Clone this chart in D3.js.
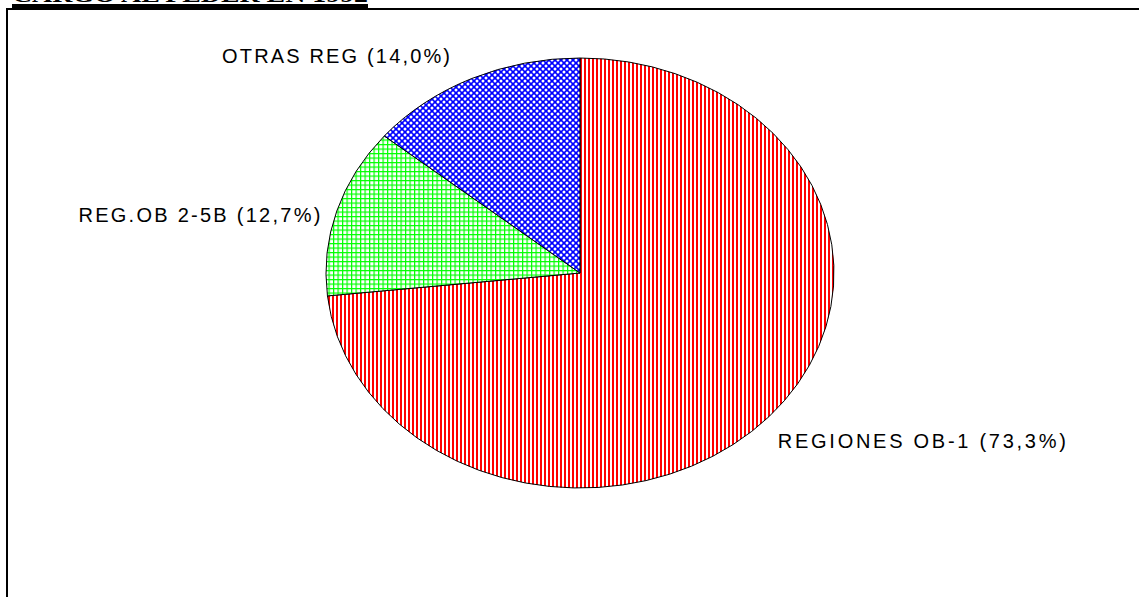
<!DOCTYPE html>
<html>
<head>
<meta charset="utf-8">
<script src="https://cdn.jsdelivr.net/npm/d3@7"></script>
<style>
  body { margin: 0; background: #fff; }
  svg { display: block; }
</style>
</head>
<body>
<div id="chart"></div>
<script>
// chart values
var title = "CARGO AL FEDER EN 1992";
var categories = ["REGIONES OB-1", "REG.OB 2-5B", "OTRAS REG"];
var shares = [73.3, 12.7, 14.0];
var patterns = ["pat-red", "pat-green", "pat-blue"];

var width = 1139, height = 597;

var svg = d3.select("#chart").append("svg")
    .attr("width", width)
    .attr("height", height);

var defs = svg.append("defs");

// red vertical stripes
var red = defs.append("pattern")
    .attr("id", "pat-red")
    .attr("patternUnits", "userSpaceOnUse")
    .attr("width", 4).attr("height", 4);
red.append("rect").attr("width", 4).attr("height", 4).attr("fill", "#fff");
red.append("rect").attr("x", 0).attr("width", 2).attr("height", 4).attr("fill", "#ff0000");

// green grid
var green = defs.append("pattern")
    .attr("id", "pat-green")
    .attr("patternUnits", "userSpaceOnUse")
    .attr("width", 4.5).attr("height", 4.5);
green.append("rect").attr("width", 4.5).attr("height", 4.5).attr("fill", "#fff");
green.append("rect").attr("x", 0).attr("width", 1.2).attr("height", 4.5).attr("fill", "#00ff00");
green.append("rect").attr("y", 0).attr("width", 4.5).attr("height", 1.2).attr("fill", "#00ff00");

// blue checker with white dots
var blue = defs.append("pattern")
    .attr("id", "pat-blue")
    .attr("patternUnits", "userSpaceOnUse")
    .attr("width", 6).attr("height", 6);
blue.append("rect").attr("width", 6).attr("height", 6).attr("fill", "#0000ff");
[[0, 0], [6, 0], [0, 6], [6, 6], [3, 3]].forEach(function(p) {
  blue.append("circle").attr("cx", p[0]).attr("cy", p[1]).attr("r", 1.5).attr("fill", "#fff");
});

// frame
svg.append("line")
    .attr("x1", 6).attr("x2", width)
    .attr("y1", 9).attr("y2", 9)
    .attr("stroke", "#000").attr("stroke-width", 2);
svg.append("line")
    .attr("x1", 7).attr("x2", 7)
    .attr("y1", 8).attr("y2", height)
    .attr("stroke", "#000").attr("stroke-width", 2);

// title, mostly cut off at the top
svg.append("text")
    .attr("x", 12).attr("y", 2)
    .attr("font-family", "'Liberation Serif', 'Times New Roman', serif")
    .attr("font-weight", "bold")
    .attr("font-size", 22)
    .attr("textLength", 356)
    .attr("lengthAdjust", "spacingAndGlyphs")
    .text(title);
svg.append("rect")
    .attr("x", 12).attr("y", 4)
    .attr("width", 356).attr("height", 4)
    .attr("fill", "#000");

// elliptical pie
var cx = 580, cy = 273, rx = 254, ry = 215;

var pt = function(a, k) {
  k = k || 1;
  return [cx + rx * k * Math.sin(a), cy - ry * k * Math.cos(a)];
};

var pie = d3.pie().sort(null).value(function(d) { return d; });
var arcs = pie(shares);

var slicePath = function(d) {
  var p0 = pt(d.startAngle), p1 = pt(d.endAngle);
  var large = (d.endAngle - d.startAngle) > Math.PI ? 1 : 0;
  return "M" + cx + "," + cy +
    "L" + p0[0] + "," + p0[1] +
    "A" + rx + "," + ry + " 0 " + large + " 1 " + p1[0] + "," + p1[1] + "Z";
};

svg.append("g").selectAll("path")
    .data(arcs)
  .enter().append("path")
    .attr("d", slicePath)
    .attr("fill", function(d, i) { return "url(#" + patterns[i] + ")"; })
    .attr("stroke", "#000")
    .attr("stroke-width", 1)
    .attr("stroke-linejoin", "round");

// labels
var fmt = function(v) { return d3.format(".1f")(v).replace(".", ","); };
var labelNudge = [[-10, 17], [8, 17], [-11, 4]];
var labelWidth = [288, 242, 228];

svg.append("g").selectAll("text")
    .data(arcs)
  .enter().append("text")
    .each(function(d, i) {
      var mid = (d.startAngle + d.endAngle) / 2;
      var p = pt(mid, 1.1);
      var right = Math.sin(mid) > 0;
      d3.select(this)
        .attr("x", p[0] + labelNudge[i][0])
        .attr("y", p[1] + labelNudge[i][1])
        .attr("text-anchor", right ? "start" : "end");
    })
    .attr("font-family", "'Liberation Sans', Arial, sans-serif")
    .attr("font-size", 20)
    .attr("textLength", function(d, i) { return labelWidth[i]; })
    .attr("lengthAdjust", "spacing")
    .attr("fill", "#000")
    .text(function(d, i) { return categories[i] + " (" + fmt(shares[i]) + "%)"; });
</script>
</body>
</html>
